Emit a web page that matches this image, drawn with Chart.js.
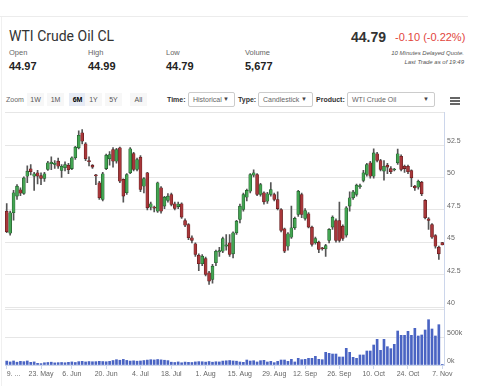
<!DOCTYPE html>
<html>
<head>
<meta charset="utf-8">
<title>WTI Crude Oil CL</title>
<script src="https://cdn.jsdelivr.net/npm/chart.js@4.4.0/dist/chart.umd.min.js"></script>
<style>
  html, body { margin: 0; padding: 0; background: #fff; }
  body { width: 478px; height: 386px; position: relative; overflow: hidden; font-family: "Liberation Sans", Arial, sans-serif; color: #333; }
  .topline { position: absolute; left: 0; top: 16px; width: 468px; height: 1px; background: #ececec; }
  .leftline { position: absolute; left: 1px; top: 17px; width: 1px; height: 369px; background: #f0f0f0; }
  .abs { position: absolute; white-space: nowrap; line-height: 1; }
  .title { left: 9px; top: 28px; font: 400 14px Roboto, sans-serif; color: #333; }
  .lbl { top: 49px; font-size: 7.5px; color: #666; }
  .val { top: 61px; font-size: 11px; font-weight: bold; color: #222; }
  .last { right: 92px; top: 30px; font-size: 14px; font-weight: bold; color: #333; }
  .chg { left: 395px; top: 32px; font-size: 11px; color: #e2453c; }
  .note { right: 14px; font-size: 6px; font-style: italic; color: #555; }
  .ctl { top: 96px; font-size: 7px; color: #666; }
  .btn { top: 93px; height: 13px; width: 17px; background: #f7f7f7; text-align: center; line-height: 13px; font-size: 7px; color: #555; }
  .btn.on { background: #e6ebf5; color: #000; font-weight: bold; }
  .lab { top: 96px; font-size: 7px; font-weight: bold; color: #333; }
  .sel { top: 92px; height: 13px; border: 1px solid #ccc; border-radius: 2px; background: #fff; font-size: 7px; line-height: 13px; color: #666; padding-left: 4px; box-sizing: content-box; }
  .sel span { position: absolute; right: 5px; top: 0; font-size: 6px; color: #444; }
  .burger { position: absolute; left: 450px; width: 10px; height: 1.5px; background: #666; }
  #chart { position: absolute; left: 0; top: 104px; }
</style>
</head>
<body>
<div class="topline"></div>
<div class="leftline"></div>

<div class="abs title">WTI Crude Oil CL</div>
<div class="abs lbl" style="left:9px">Open</div>
<div class="abs lbl" style="left:88px">High</div>
<div class="abs lbl" style="left:166px">Low</div>
<div class="abs lbl" style="left:245px">Volume</div>
<div class="abs val" style="left:9px">44.97</div>
<div class="abs val" style="left:88px">44.99</div>
<div class="abs val" style="left:166px">44.79</div>
<div class="abs val" style="left:245px">5,677</div>
<div class="abs last">44.79</div>
<div class="abs chg">-0.10 (-0.22%)</div>
<div class="abs note" style="top:50px">10 Minutes Delayed Quote.</div>
<div class="abs note" style="top:59px">Last Trade as of 19:49</div>

<div class="abs ctl" style="left:6px">Zoom</div>
<div class="abs btn" style="left:27px">1W</div>
<div class="abs btn" style="left:47px">1M</div>
<div class="abs btn on" style="left:69px">6M</div>
<div class="abs btn" style="left:85px">1Y</div>
<div class="abs btn" style="left:105px">5Y</div>
<div class="abs btn" style="left:130px">All</div>
<div class="abs lab" style="left:167px">Time:</div>
<div class="abs sel" style="left:188px;width:41px">Historical<span>&#9660;</span></div>
<div class="abs lab" style="left:238px">Type:</div>
<div class="abs sel" style="left:258px;width:49px">Candlestick<span>&#9660;</span></div>
<div class="abs lab" style="left:316px">Product:</div>
<div class="abs sel" style="left:347px;width:82px">WTI Crude Oil<span>&#9660;</span></div>
<div class="burger" style="top:97px"></div>
<div class="burger" style="top:100px"></div>
<div class="burger" style="top:103px"></div>

<canvas id="chart" width="478" height="282"></canvas>

<script>
// trading days, May 9 - Nov 7 2016 (holidays left out)
const tradingDays = [
  ['05', [9,10,11,12,13,16,17,18,19,20,23,24,25,26,27,31]],
  ['06', [1,2,3,6,7,8,9,10,13,14,15,16,17,20,21,22,23,24,27,28,29,30]],
  ['07', [1,5,6,7,8,11,12,13,14,15,18,19,20,21,22,25,26,27,28,29]],
  ['08', [1,2,3,4,5,8,9,10,11,12,15,16,17,18,19,22,23,24,25,26,29,30,31]],
  ['09', [1,2,6,7,8,9,12,13,14,15,16,19,20,21,22,23,26,27,28,29,30]],
  ['10', [3,4,5,6,7,10,11,12,13,14,17,18,19,20,21,24,25,26,27,28,31]],
  ['11', [1,2,3,4,7]]
];

const opens = [
  47.40,45.70,47.28,48.56,49.05,48.77,50.10,50.67,50.10,50.36,50.15,49.92,50.62,51.06,51.00,51.26,
  50.54,50.75,50.95,50.69,51.52,52.29,53.45,52.60,51.30,50.95,50.18,49.59,48.30,50.69,51.44,52.16,
  51.26,52.29,49.85,48.82,50.36,51.85,50.62,51.57,49.33,50.36,47.71,47.68,47.40,49.20,47.79,48.23,
  48.69,47.97,47.75,47.97,46.68,46.37,45.35,44.88,44.00,43.34,43.75,42.65,42.13,43.42,44.25,44.31,
  44.70,44.96,44.11,45.73,46.76,47.53,48.48,48.94,50.18,50.23,48.69,48.82,48.17,48.69,48.69,48.30,
  47.53,46.04,44.70,45.39,46.12,47.14,48.69,46.84,47.20,46.17,44.96,45.01,44.55,44.48,45.14,46.17,
  46.68,46.68,46.24,45.55,47.79,48.43,48.69,49.30,49.77,50.23,51.13,50.10,51.83,51.31,50.49,50.95,
  50.69,50.58,51.13,51.64,50.87,50.87,50.54,49.33,49.25,49.64,48.23,46.81,46.37,45.52,44.62,44.97
];
const highs = [
  47.99,47.40,49.00,49.45,49.20,50.05,50.90,51.00,50.40,50.55,50.35,50.40,51.25,51.60,51.30,51.50,
  51.00,51.20,51.10,51.60,52.40,53.60,53.70,52.70,51.60,51.00,50.25,49.70,50.40,51.80,52.00,52.30,
  52.25,52.35,49.90,50.30,52.30,51.95,51.50,51.70,50.00,50.40,48.10,47.80,49.65,49.30,48.55,48.75,
  48.80,48.10,48.10,48.05,46.80,46.45,45.50,44.95,44.10,44.05,43.85,42.75,43.30,44.40,44.60,45.40,
  45.60,45.60,45.80,46.70,47.95,48.80,49.10,50.30,50.60,50.30,49.55,48.90,48.85,49.60,48.80,48.90,
  47.60,46.10,45.75,47.80,46.95,49.00,48.80,47.60,47.30,46.25,45.40,45.10,44.60,44.85,46.05,47.05,
  46.80,48.10,46.35,47.75,48.90,49.00,49.50,49.50,50.55,51.10,51.25,52.21,51.95,51.40,51.30,51.10,
  50.85,50.70,52.20,51.75,50.95,50.95,50.60,49.40,49.80,49.70,48.30,46.90,46.45,45.60,44.70,44.99
];
const lows = [
  45.75,45.55,46.70,48.30,48.60,48.70,49.60,50.20,49.00,49.50,49.45,49.70,50.55,50.60,50.70,50.70,
  50.00,50.50,50.30,50.60,51.40,52.20,52.60,51.30,50.90,50.70,49.45,48.30,48.20,50.60,50.95,50.80,
  51.10,49.60,48.10,48.70,50.30,50.50,50.50,48.90,48.80,47.50,47.50,47.35,47.30,47.25,47.60,48.10,
  47.80,47.50,47.60,46.85,46.20,45.20,44.95,43.90,42.80,43.20,42.40,41.74,41.85,43.20,43.90,44.20,
  44.40,43.90,43.80,45.60,46.50,47.40,48.20,48.80,50.05,48.60,48.55,47.95,48.00,48.55,48.20,47.50,
  45.80,44.20,44.40,45.30,46.00,47.00,46.90,46.70,46.10,44.70,44.85,44.20,44.40,43.90,44.95,46.00,
  45.00,45.00,45.15,45.40,47.40,48.30,48.55,49.15,49.65,50.10,49.95,49.95,51.20,50.50,49.80,50.30,
  50.30,50.50,51.00,50.50,50.40,50.30,49.30,49.00,49.10,48.60,46.80,46.00,45.30,44.55,43.67,44.79
];
const closes = [
  45.81,47.28,48.82,49.33,48.79,49.97,50.49,50.44,50.29,50.10,49.92,50.29,51.13,51.18,51.12,50.87,
  50.87,51.00,50.60,51.52,52.34,53.26,52.80,51.44,51.22,50.80,50.12,48.43,50.29,51.72,51.77,51.26,
  52.16,49.71,48.56,50.23,52.21,50.62,51.39,49.07,49.92,47.66,47.97,47.64,49.59,47.40,48.48,48.56,
  47.92,47.61,47.95,46.94,46.32,45.35,45.14,44.06,43.34,43.93,42.52,42.00,43.16,44.31,44.35,45.29,
  44.80,44.06,45.73,46.63,47.79,48.69,49.00,50.23,50.36,48.69,49.46,48.12,48.74,49.07,48.30,47.60,
  45.91,44.31,45.65,46.12,46.84,48.94,47.14,47.45,46.17,44.83,45.29,44.44,44.50,44.74,45.99,46.94,
  45.14,45.14,45.29,47.66,48.43,48.89,49.41,49.36,50.36,51.00,50.10,51.90,51.31,50.62,50.87,50.80,
  50.44,50.62,51.83,50.62,50.69,50.44,49.97,49.20,49.71,48.74,46.89,46.68,45.39,44.70,44.11,44.79
];
// volume in thousands of contracts
const volumes = [
  70,55,72,50,65,60,72,48,55,30,25,40,45,50,38,42,45,40,48,55,45,60,65,55,62,58,60,66,62,58,65,80,
  95,85,100,82,70,75,68,72,80,88,95,90,98,92,85,78,50,45,55,40,52,48,45,55,60,58,52,62,50,58,55,70,
  75,80,72,68,54,48,89,71,77,54,77,83,54,65,42,65,89,89,65,101,54,119,95,101,119,119,155,101,95,226,
  208,196,196,143,143,298,226,137,119,179,179,250,250,357,458,262,458,327,292,369,607,530,530,601,530,655,518,536,625,809,643,518,720,6
];

const priceTicks = [40, 42.5, 45, 47.5, 50, 52.5];
const volumeTicks = [0, 500];
const tickText = {
  '2016-05-09': '9. ...', '2016-05-23': '23. May', '2016-06-06': '6. Jun', '2016-06-20': '20. Jun',
  '2016-07-05': '4. Jul', '2016-07-18': '18. Jul', '2016-08-01': '1. Aug', '2016-08-15': '15. Aug',
  '2016-08-29': '29. Aug', '2016-09-12': '12. Sep', '2016-09-26': '26. Sep', '2016-10-10': '10. Oct',
  '2016-10-24': '24. Oct', '2016-11-07': '7. Nov'
};

const days = [];
tradingDays.forEach(([m, list]) => {
  list.forEach(d => days.push('2016-' + m + '-' + String(d).padStart(2, '0')));
});

const UP = '#43a452', UP_EDGE = '#1e5226';
const DOWN = '#a8373a', DOWN_EDGE = '#5a1719';
const isUp = opens.map((o, i) => closes[i] >= o);

Chart.defaults.font.family = '"Liberation Sans", Arial, sans-serif';
Chart.defaults.font.size = 7;
Chart.defaults.color = '#666';

// first label sits right of its tick (cut-off label, like the original)
function xLabel(v, i) {
  const t = tickText[days[i]] || '';
  return i === 0 && t ? '\u00a0'.repeat(7) + t : t;
}

const ctx = document.getElementById('chart').getContext('2d');
new Chart(ctx, {
  type: 'bar',
  data: {
    labels: days,
    datasets: [
      {
        label: 'body',
        data: opens.map((o, i) => [o, closes[i]]),
        backgroundColor: isUp.map(u => u ? UP : DOWN),
        borderColor: isUp.map(u => u ? UP_EDGE : DOWN_EDGE),
        borderWidth: 0.6,
        borderSkipped: false,
        barThickness: 3,
        minBarLength: 1,
        grouped: false,
        yAxisID: 'y'
      },
      {
        label: 'wick',
        data: lows.map((l, i) => [l, highs[i]]),
        backgroundColor: '#555',
        barThickness: 1,
        grouped: false,
        yAxisID: 'y'
      },
      {
        label: 'Volume',
        data: volumes,
        backgroundColor: '#4a64c3',
        barThickness: 2,
        grouped: false,
        yAxisID: 'yv'
      }
    ]
  },
  options: {
    responsive: false,
    animation: false,
    devicePixelRatio: 1,
    layout: { padding: { left: 5, right: 0, top: 8.7, bottom: 4 } },
    plugins: { legend: { display: false }, tooltip: { enabled: false } },
    scales: {
      x: {
        type: 'category',
        offset: true,
        grid: {
          offset: false,
          drawOnChartArea: false,
          tickLength: 4,
          color: c => (c.tick && tickText[days[c.index]]) ? '#ccd6eb' : 'rgba(0,0,0,0)'
        },
        border: { color: '#ccd6eb' },
        ticks: {
          autoSkip: false,
          maxRotation: 0,
          padding: 1,
          color: '#666',
          callback: xLabel
        },
        afterFit: s => { s.height = 17; s.paddingLeft = 0; s.paddingRight = 0; }
      },
      y: {
        position: 'right',
        stack: 'v',
        stackWeight: 196.3,
        min: 39.85,
        max: 55,
        afterBuildTicks: s => {
          s.ticks = [39.85].concat(priceTicks, [55]).map(v => ({ value: v }));
        },
        ticks: {
          padding: 3,
          labelOffset: -4,
          color: '#666',
          callback: v => priceTicks.includes(v) ? String(v) : ''
        },
        grid: { color: '#e6e6e6', drawTicks: false },
        border: { color: '#ccd6eb' },
        afterFit: s => { s.width = 34; }
      },
      yv: {
        position: 'right',
        stack: 'v',
        stackWeight: 56,
        min: 0,
        max: 1000,
        ticks: {
          stepSize: 500,
          padding: 3,
          labelOffset: -4,
          color: '#666',
          callback: v => volumeTicks.includes(v) ? v + 'k' : ''
        },
        grid: { color: '#e6e6e6', drawTicks: false },
        border: { color: '#ccd6eb' },
        afterFit: s => { s.width = 34; }
      }
    }
  }
});
</script>
</body>
</html>
